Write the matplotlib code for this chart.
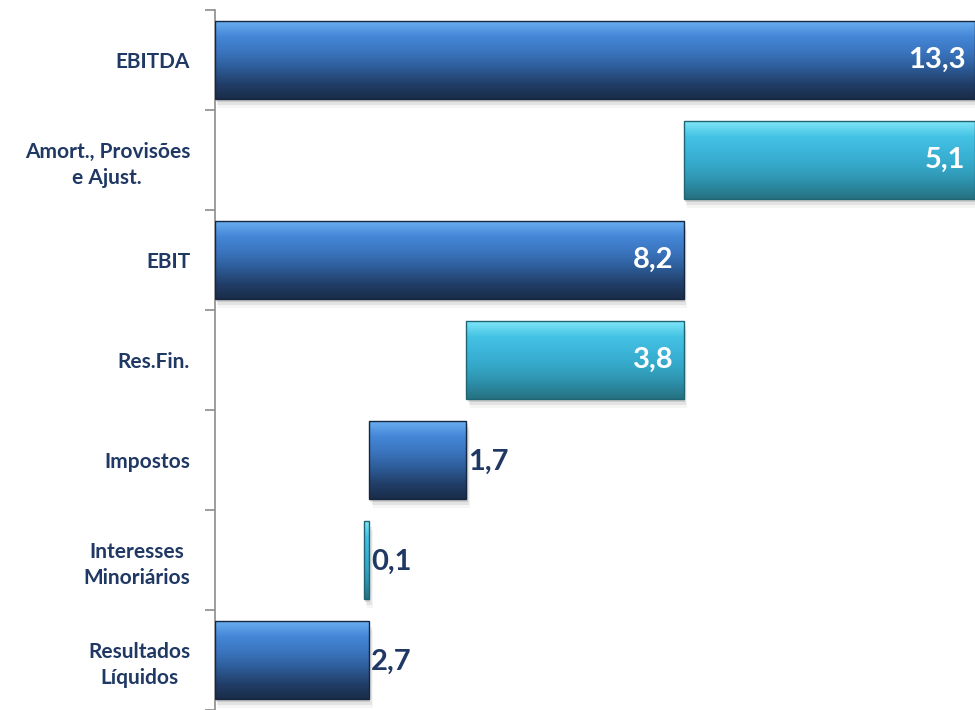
import numpy as np
import matplotlib.pyplot as plt
from matplotlib.colors import LinearSegmentedColormap
from matplotlib.patches import Rectangle

# Cascata de resultados (M€)
categorias = ["EBITDA", "Amort., Provisões\ne Ajust.", "EBIT", "Res.Fin.",
              "Impostos", "Interesses\nMinoriários", "Resultados\nLíquidos"]
valores = [13.3, 5.1, 8.2, 3.8, 1.7, 0.1, 2.7]
rotulos = ["13,3", "5,1", "8,2", "3,8", "1,7", "0,1", "2,7"]
tipo = ["total", "sub", "total", "sub", "sub", "sub", "total"]
cor = ["azul", "ciano", "azul", "ciano", "azul", "ciano", "azul"]
rotulo_dentro = [True, True, True, True, False, False, False]

# inicio de cada barra: totais partem do zero, deduções descem a partir do acumulado
inicios = []
acumulado = 0.0
for v, t in zip(valores, tipo):
    if t == "total":
        inicios.append(0.0)
        acumulado = v
    elif t == "sub":
        acumulado = acumulado - v
        inicios.append(acumulado)
# Amort. é mostrado entre EBIT e EBITDA
inicios[1] = valores[0] - valores[1]

gradientes = {
    "azul": LinearSegmentedColormap.from_list(
        "azul", ["#6aaef0", "#4486d6", "#3a74be", "#2d5c98", "#213f6a", "#1a2c48"]),
    "ciano": LinearSegmentedColormap.from_list(
        "ciano", ["#80e6f8", "#44c2e4", "#3bb4d8", "#34a6c6", "#2d8ea8", "#26707f"]),
}
bordas = {"azul": "#15263f", "ciano": "#1f6573"}

navy = "#1f3864"
plt.rcParams['font.family'] = ['Lato', 'DejaVu Sans']

fig = plt.figure(figsize=(9.75, 7.10), dpi=100)
ax = fig.add_axes([215 / 975, 0.0, 760 / 975, 700 / 710])

n = len(categorias)
ax.set_xlim(0, 13.3)
ax.set_ylim(n - 0.5, -0.5)

altura = 0.78
grad = np.linspace(0, 1, 256).reshape(-1, 1)
for i in range(n):
    x0, w = inicios[i], valores[i]
    y0 = i - altura / 2
    # sombra suave
    for k, a in enumerate([0.10, 0.07, 0.04]):
        ax.add_patch(Rectangle((x0 + 0.02 * (k + 1), y0 + 0.03 * (k + 1)), w, altura,
                               facecolor="#000000", alpha=a, edgecolor="none", zorder=1))
    ax.imshow(grad, cmap=gradientes[cor[i]], aspect="auto",
              extent=[x0, x0 + w, y0 + altura, y0], origin="upper", zorder=2)
    ax.add_patch(Rectangle((x0, y0), w, altura, facecolor="none",
                           edgecolor=bordas[cor[i]], linewidth=1.0, zorder=4))
    fim = x0 + w
    if rotulo_dentro[i]:
        ax.text(fim - 0.17, i, rotulos[i], ha="right", va="center", color="white",
                fontsize=21, fontweight="bold", zorder=5)
    else:
        ax.text(fim + 0.03, i + 0.02, rotulos[i], ha="left", va="center", color=navy,
                fontsize=21, fontweight="bold", zorder=5)

ax.set_yticks(range(n))
ax.set_yticklabels(categorias, fontsize=15, fontweight="bold", color=navy,
                   ha="right", multialignment="center", linespacing=1.35)
ax.tick_params(axis="y", length=0, pad=18)
ax.set_yticks(np.arange(-0.5, n, 1.0), minor=True)
ax.tick_params(axis="y", which="minor", length=7, color="#8c8c8c", width=1.2)
ax.set_xticks([])

for lado in ["top", "right", "bottom"]:
    ax.spines[lado].set_visible(False)
ax.spines["left"].set_color("#8c8c8c")
ax.spines["left"].set_linewidth(1.2)

fig.savefig("out.png", dpi=100)
